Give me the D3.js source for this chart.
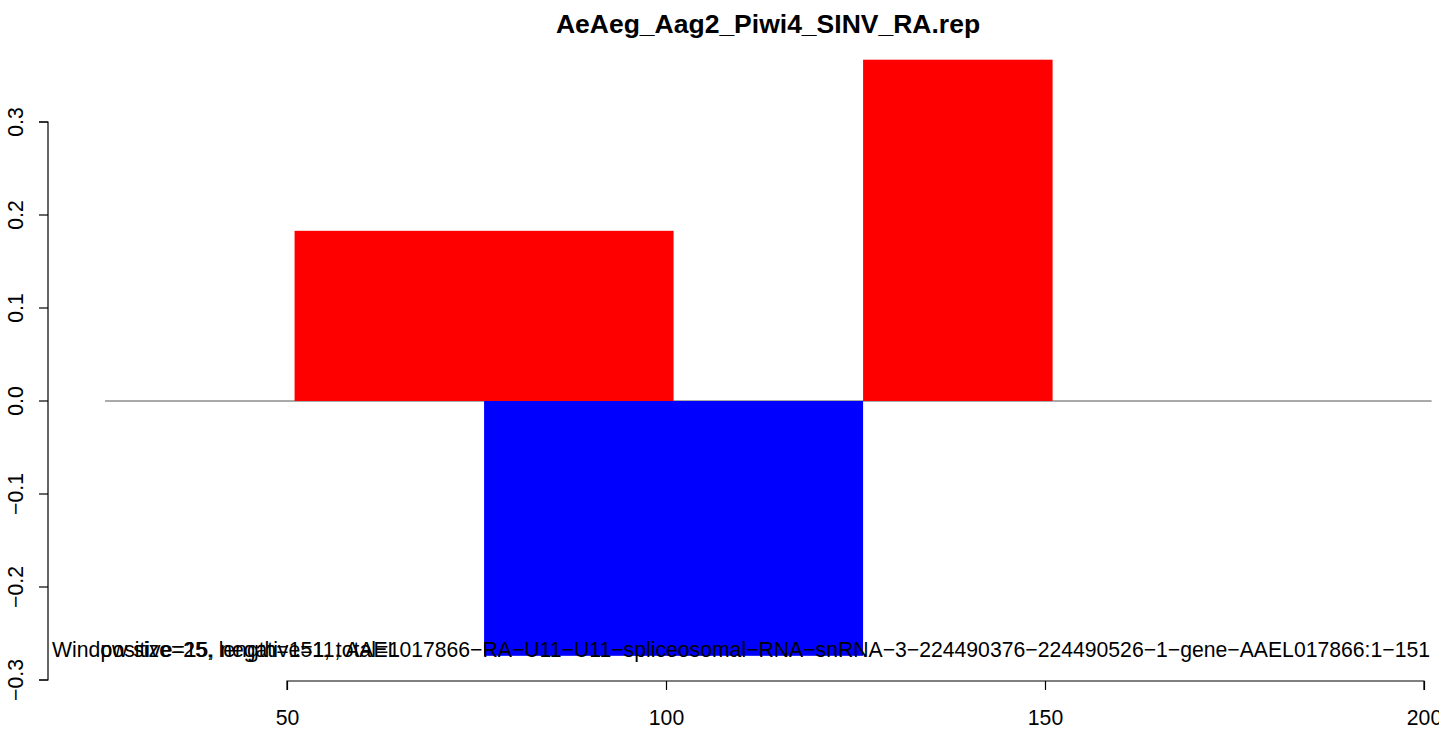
<!DOCTYPE html>
<html><head><meta charset="utf-8">
<script src="https://cdn.jsdelivr.net/npm/d3@7"></script>
<style>body{margin:0;background:#fff;} svg{display:block;} text{font-family:"Liberation Sans",Arial,sans-serif;}</style>
</head><body>
<script>
const title = "AeAeg_Aag2_Piwi4_SINV_RA.rep";
const barStart = [51, 76, 126];
const barEnd = [101, 126, 151];
const barValue = [0.183, -0.274, 0.367];
const barColor = ["#FF0000", "#0000FF", "#FF0000"];
const baselineRange = [26, 201];
const xTicks = [50, 100, 150, 200];
const yTicks = [-0.3, -0.2, -0.1, 0.0, 0.1, 0.2, 0.3];
const noteA = "Window size=25, length=151, total=1";
const noteB = "positive=15, negative=11, AAEL017866\u2212RA\u2212U11\u2212U11\u2212spliceosomal\u2212RNA\u2212snRNA\u22123\u2212224490376\u2212224490526\u22121\u2212gene\u2212AAEL017866:1\u2212151";

const W = 1439, H = 732;
const FS = 21.2;
const svg = d3.select("body").append("svg").attr("width", W).attr("height", H);
const x = d3.scaleLinear().domain([50, 200]).range([287, 1424]);
const y = d3.scaleLinear().domain([-0.3, 0.3]).range([680, 122]);

// baseline
svg.append("line").attr("x1", x(baselineRange[0])).attr("x2", x(baselineRange[1]))
  .attr("y1", y(0)).attr("y2", y(0)).attr("stroke", "#555").attr("stroke-width", 1);

// bars
svg.selectAll("rect.bar").data(barValue).enter().append("rect")
  .attr("x", (d, i) => x(barStart[i]))
  .attr("width", (d, i) => x(barEnd[i]) - x(barStart[i]))
  .attr("y", d => y(Math.max(0, d)))
  .attr("height", d => Math.abs(y(d) - y(0)))
  .attr("fill", (d, i) => barColor[i]);

// x axis
const xAxis = d3.axisBottom(x).tickValues(xTicks).tickFormat(d3.format("d")).tickSize(9).tickPadding(20);
const gx = svg.append("g").attr("transform", "translate(0,681)").call(xAxis);
gx.select(".domain").attr("stroke", "#000").attr("stroke-width", 1.2).attr("d", `M${x(50)},9V0H${x(200)}V9`);
gx.selectAll(".tick line").attr("stroke-width", 1.2);
gx.selectAll("text").attr("font-size", FS).attr("fill", "#000").attr("font-family", "Liberation Sans, Arial, sans-serif");

// y axis
const yAxis = d3.axisLeft(y).tickValues(yTicks).tickFormat(d3.format(".1f")).tickSize(9).tickPadding(14);
const gy = svg.append("g").attr("transform", "translate(48,0)").call(yAxis);
gy.select(".domain").attr("stroke", "#000").attr("stroke-width", 1.2).attr("d", `M-9,${y(-0.3)}H0V${y(0.3)}H-9`);
gy.selectAll(".tick line").attr("stroke-width", 1.2);
gy.selectAll("text").attr("font-size", FS).attr("fill", "#000").attr("font-family", "Liberation Sans, Arial, sans-serif")
  .attr("text-anchor", "middle").attr("dy", null)
  .attr("transform", function(d) { return `translate(${-31},${y(d)}) rotate(-90)`; })
  .attr("x", 0).attr("y", 0).attr("dominant-baseline", "middle");
gy.selectAll(".tick").attr("transform", null);
gy.selectAll(".tick line").attr("transform", d => `translate(0,${y(d)})`);

// title
svg.append("text").attr("x", 768).attr("y", 33).attr("text-anchor", "middle")
  .attr("font-size", 26.5).attr("font-weight", "bold").text(title);

// notes
svg.append("text").attr("x", 52).attr("y", 657).attr("font-size", FS).text(noteA);
svg.append("text").attr("x", 1430).attr("y", 657).attr("text-anchor", "end").attr("font-size", FS).text(noteB);
</script>
</body></html>
